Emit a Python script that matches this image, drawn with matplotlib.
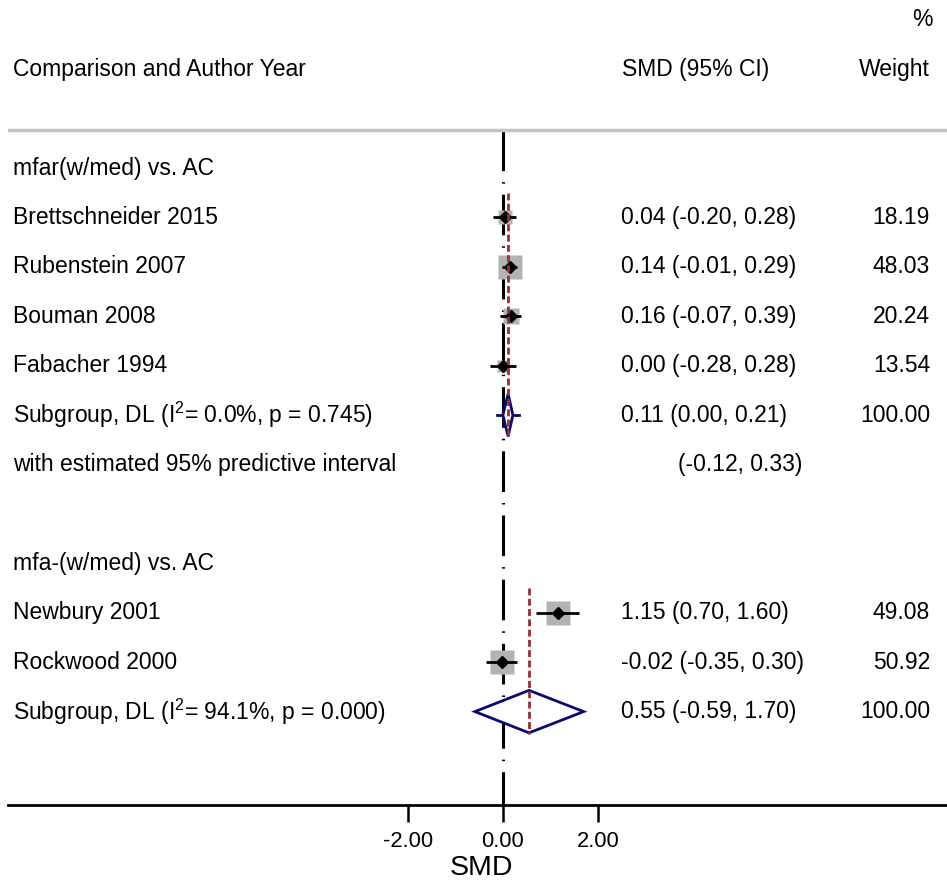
import matplotlib
matplotlib.use("Agg")
import matplotlib.pyplot as plt

plt.rcParams['font.family'] = ['Liberation Sans', 'DejaVu Sans']
plt.rcParams['mathtext.fontset'] = 'custom'
plt.rcParams['mathtext.rm'] = 'Liberation Sans'
plt.rcParams['mathtext.it'] = 'Liberation Sans'

# subgroup 1
g1_name = "mfar(w/med) vs. AC"
g1_studies = ["Brettschneider 2015", "Rubenstein 2007", "Bouman 2008", "Fabacher 1994"]
g1_smd = [0.04, 0.14, 0.16, 0.00]
g1_lo = [-0.20, -0.01, -0.07, -0.28]
g1_hi = [0.28, 0.29, 0.39, 0.28]
g1_wt = [18.19, 48.03, 20.24, 13.54]
g1_pool = (0.11, 0.00, 0.21)
g1_i2, g1_p = 0.0, 0.745
g1_pred = (-0.12, 0.33)

# subgroup 2
g2_name = "mfa-(w/med) vs. AC"
g2_studies = ["Newbury 2001", "Rockwood 2000"]
g2_smd = [1.15, -0.02]
g2_lo = [0.70, -0.35]
g2_hi = [1.60, 0.30]
g2_wt = [49.08, 50.92]
g2_pool = (0.55, -0.59, 1.70)
g2_i2, g2_p = 94.1, 0.000

xticks = [-2, 0, 2]

FS = 16.5
NAVY = '#0b0b6e'
DRED = '#9e2b35'
GREY = '#b3b3b3'

fig = plt.figure(figsize=(9.47, 8.84), dpi=100)
ax = fig.add_axes([8 / 947, 79 / 884, 939 / 947, 805 / 884])
ax.set_xlim(-10.42, 9.35)
ax.set_ylim(12.89, -3.40)

tr = ax.get_yaxis_transform()
X_LABEL, X_CI, X_WT = 0.0053, 0.6528, 0.982


def diamond(est, lo, hi, y, h=0.43):
    ax.fill([lo, est, hi, est, lo], [y, y - h, y, y + h, y],
            facecolor='white', edgecolor=NAVY, lw=2.0, zorder=5)


def draw_group(row, name, studies, smd, lo, hi, wt, pool, i2, p, pred=None):
    ax.text(X_LABEL, row, name, transform=tr, fontsize=FS, va='center')
    first = row + 1
    for k in range(len(studies)):
        y = row + 1 + k
        ax.text(X_LABEL, y, studies[k], transform=tr, fontsize=FS, va='center')
        ax.text(X_CI, y, f"{smd[k]:.2f} ({lo[k]:.2f}, {hi[k]:.2f})",
                transform=tr, fontsize=FS, va='center')
        ax.text(X_WT, y, f"{wt[k]:.2f}", transform=tr, fontsize=FS,
                va='center', ha='right')
        ax.plot(smd[k], y, marker='s', ms=2.45 * wt[k] ** 0.5, color=GREY,
                mec='none', zorder=2)
        ax.plot([lo[k], hi[k]], [y, y], color='black', lw=2.0,
                solid_capstyle='butt', zorder=3)
        ax.plot(smd[k], y, marker='D', ms=6.5, color='black', zorder=4)
    ys = row + 1 + len(studies)
    ax.text(X_LABEL, ys,
            f"Subgroup, DL (I$^{{2}}$= {i2:.1f}%, p = {p:.3f})",
            transform=tr, fontsize=FS, va='center')
    ax.text(X_CI, ys, f"{pool[0]:.2f} ({pool[1]:.2f}, {pool[2]:.2f})",
            transform=tr, fontsize=FS, va='center')
    ax.text(X_WT, ys, f"{sum(wt):.2f}", transform=tr, fontsize=FS,
            va='center', ha='right')
    diamond(pool[0], pool[1], pool[2], ys)
    ax.plot([pool[0], pool[0]], [first - 0.5, ys + 0.45], color=DRED, lw=2.0,
            ls=(0, (2.5, 1.2)), zorder=6)
    if pred is not None:
        ax.plot([pred[0], pred[1]], [ys, ys], color=NAVY, lw=2.0, zorder=4)
        ax.text(X_LABEL, ys + 1, "with estimated 95% predictive interval",
                transform=tr, fontsize=FS, va='center')
        ax.text(0.846, ys + 1, f"({pred[0]:.2f}, {pred[1]:.2f})",
                transform=tr, fontsize=FS, va='center', ha='right')
        return ys + 2
    return ys + 1


# headers
ax.text(X_WT + 0.003, -3.0, "%", transform=tr, fontsize=FS, va='center', ha='right')
ax.text(X_LABEL, -2.0, "Comparison and Author Year", transform=tr,
        fontsize=FS, va='center')
ax.text(0.654, -2.0, "SMD (95% CI)", transform=tr, fontsize=FS, va='center')
ax.text(X_WT, -2.0, "Weight", transform=tr, fontsize=FS, va='center', ha='right')
ax.axhline(-0.77, color='#c3c3c3', lw=2.5, xmin=0, xmax=1)

# null line
ax.plot([0, 0], [-0.77, 12.89], color='black', lw=2.2,
        ls=(0, (13.3, 3.6, 0.5, 3.6)), zorder=1)

r = draw_group(0, g1_name, g1_studies, g1_smd, g1_lo, g1_hi, g1_wt,
               g1_pool, g1_i2, g1_p, g1_pred)
r = draw_group(r + 1, g2_name, g2_studies, g2_smd, g2_lo, g2_hi, g2_wt,
               g2_pool, g2_i2, g2_p)

for s in ['top', 'left', 'right']:
    ax.spines[s].set_visible(False)
ax.spines['bottom'].set_linewidth(2.0)
ax.set_yticks([])
ax.set_xticks(xticks)
ax.set_xticklabels([f"{t:.2f}" for t in xticks])
ax.tick_params(axis='x', direction='out', length=12, width=1.8,
               labelsize=15.8, pad=7)
ax.text(0.504, -0.078, "SMD", transform=ax.transAxes, fontsize=20.5,
        ha='center', va='center')

fig.savefig("out.png", dpi=100)
